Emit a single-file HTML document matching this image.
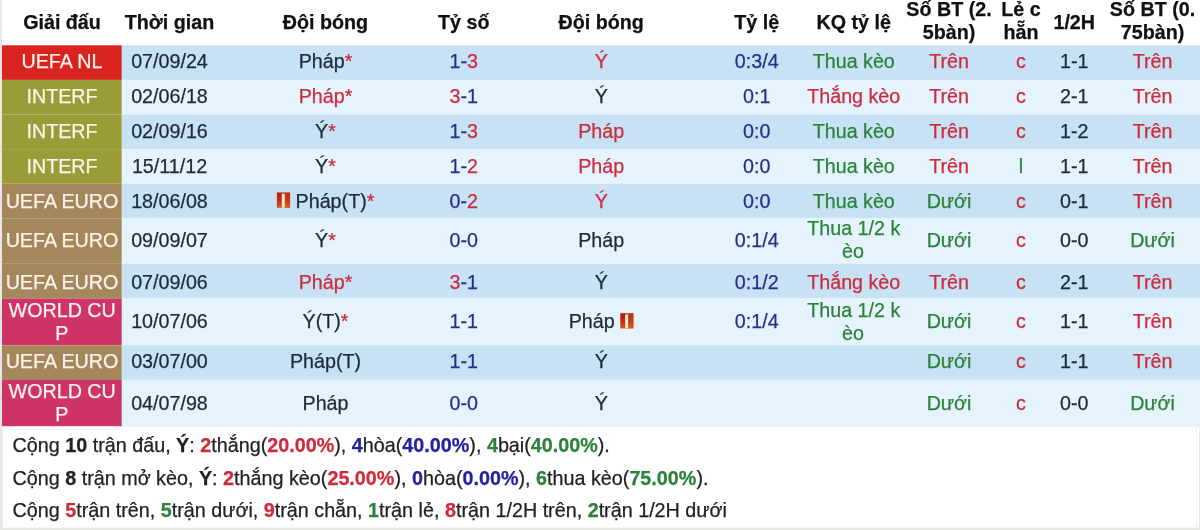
<!DOCTYPE html>
<html lang="vi">
<head>
<meta charset="utf-8">
<title>Thống kê đối đầu Pháp - Ý</title>
<style>
html,body{margin:0;padding:0;background:#fff;}
body{width:1200px;height:530px;overflow:hidden;}
svg{display:block;font-family:"Liberation Sans",Arial,sans-serif;font-size:19.7px;}
.h{font-weight:bold;fill:#111;stroke:#111;}
text{stroke-width:0.25px;}
.k{fill:#1e2a38;stroke:#1e2a38;}
.r{fill:#cf2b3c;stroke:#cf2b3c;}
.g{fill:#2c8238;stroke:#2c8238;}
.bl{fill:#26308c;stroke:#26308c;}
.bs{fill:#23239d;stroke:#23239d;}
.s{fill:#222;stroke:#222;font-size:19.76px;}
.m{text-anchor:middle;}
.lg{fill:#fff3ea;stroke:#fff3ea;}
</style>
</head>
<body>
<svg width="1200" height="530" viewBox="0 0 1200 530">
<defs><linearGradient id="cg" x1="0" y1="0" x2="0" y2="1"><stop offset="0" stop-color="#b41710"/><stop offset="0.5" stop-color="#c42a14"/><stop offset="1" stop-color="#d9581e"/></linearGradient><linearGradient id="cb" x1="0" y1="0" x2="0" y2="1"><stop offset="0" stop-color="#ffe9c8"/><stop offset="0.5" stop-color="#fff6e6"/><stop offset="1" stop-color="#ffe2a6"/></linearGradient></defs>
<rect x="0" y="0" width="1200" height="530" fill="#fff"/>
<rect x="121.7" y="45.3" width="1078.3" height="34.60" fill="#c6e2f4"/>
<rect x="2.0" y="45.3" width="119.70" height="34.60" fill="#d8231f"/>
<rect x="121.7" y="79.9" width="1078.3" height="34.60" fill="#e5f4fc"/>
<rect x="2.0" y="79.9" width="119.70" height="34.60" fill="#9a9c38"/>
<rect x="121.7" y="114.5" width="1078.3" height="34.60" fill="#c6e2f4"/>
<rect x="2.0" y="114.5" width="119.70" height="34.60" fill="#9a9c38"/>
<rect x="121.7" y="149.1" width="1078.3" height="34.60" fill="#e5f4fc"/>
<rect x="2.0" y="149.1" width="119.70" height="34.60" fill="#9a9c38"/>
<rect x="121.7" y="183.7" width="1078.3" height="34.60" fill="#c6e2f4"/>
<rect x="2.0" y="183.7" width="119.70" height="34.60" fill="#a4885b"/>
<rect x="121.7" y="218.3" width="1078.3" height="45.50" fill="#e5f4fc"/>
<rect x="2.0" y="218.3" width="119.70" height="45.50" fill="#a4885b"/>
<rect x="121.7" y="263.8" width="1078.3" height="34.70" fill="#c6e2f4"/>
<rect x="2.0" y="263.8" width="119.70" height="34.70" fill="#a4885b"/>
<rect x="121.7" y="298.5" width="1078.3" height="46.80" fill="#e5f4fc"/>
<rect x="2.0" y="298.5" width="119.70" height="46.80" fill="#cf3468"/>
<rect x="121.7" y="345.3" width="1078.3" height="34.60" fill="#c6e2f4"/>
<rect x="2.0" y="345.3" width="119.70" height="34.60" fill="#a4885b"/>
<rect x="121.7" y="379.9" width="1078.3" height="46.90" fill="#e5f4fc"/>
<rect x="2.0" y="379.9" width="119.70" height="46.30" fill="#cf3468"/>
<rect x="0" y="0" width="2" height="530" fill="#e7e7e4"/>
<rect x="2" y="427" width="1.1" height="101" fill="#ecece9"/>
<rect x="1196" y="427.2" width="1" height="100.5" fill="#f0f0ed"/>
<rect x="1199" y="427.2" width="1" height="103" fill="#eaeae7"/>
<rect x="0" y="527.7" width="1200" height="2.3" fill="#e8e8e5"/>
<text class="h m" x="62" y="28.7">Giải đấu</text>
<text class="h m" x="169.5" y="28.7">Thời gian</text>
<text class="h m" x="325.5" y="28.7">Đội bóng</text>
<text class="h m" x="463.75" y="28.7">Tỷ số</text>
<text class="h m" x="601.2" y="28.7">Đội bóng</text>
<text class="h m" x="756.75" y="28.7">Tỷ lệ</text>
<text class="h m" x="853.75" y="28.7">KQ tỷ lệ</text>
<text class="h m" x="949" y="15.6">Số BT (2.</text>
<text class="h m" x="949" y="38.9">5bàn)</text>
<text class="h m" x="1021" y="15.6">Lẻ c</text>
<text class="h m" x="1021" y="38.9">hẵn</text>
<text class="h m" x="1074.25" y="28.7">1/2H</text>
<text class="h m" x="1152.5" y="15.6">Số BT (0.</text>
<text class="h m" x="1152.5" y="38.9">75bàn)</text>
<text class="m lg" x="62" y="68.4">UEFA NL</text>
<text class="m k" x="169.5" y="68.4">07/09/24</text>
<text class="m k" x="325.50" y="68.4">Pháp<tspan class="r">*</tspan></text>
<text class="m k" x="463.75" y="68.4"><tspan class="bl">1-</tspan><tspan class="r">3</tspan></text>
<text class="m k" x="601.20" y="68.4"><tspan class="r">Ý</tspan></text>
<text class="m bl" x="756.75" y="68.4">0:3/4</text>
<text class="m g" x="853.75" y="68.4">Thua kèo</text>
<text class="m r" x="949" y="68.4">Trên</text>
<text class="m r" x="1021" y="68.4">c</text>
<text class="m k" x="1074.25" y="68.4">1-1</text>
<text class="m r" x="1152.5" y="68.4">Trên</text>
<text class="m lg" x="62" y="103.05">INTERF</text>
<text class="m k" x="169.5" y="103.05">02/06/18</text>
<text class="m k" x="325.50" y="103.05"><tspan class="r">Pháp*</tspan></text>
<text class="m k" x="463.75" y="103.05"><tspan class="r">3</tspan><tspan class="bl">-1</tspan></text>
<text class="m k" x="601.20" y="103.05">Ý</text>
<text class="m bl" x="756.75" y="103.05">0:1</text>
<text class="m r" x="853.75" y="103.05">Thắng kèo</text>
<text class="m r" x="949" y="103.05">Trên</text>
<text class="m r" x="1021" y="103.05">c</text>
<text class="m k" x="1074.25" y="103.05">2-1</text>
<text class="m r" x="1152.5" y="103.05">Trên</text>
<text class="m lg" x="62" y="137.7">INTERF</text>
<text class="m k" x="169.5" y="137.7">02/09/16</text>
<text class="m k" x="325.50" y="137.7">Ý<tspan class="r">*</tspan></text>
<text class="m k" x="463.75" y="137.7"><tspan class="bl">1-</tspan><tspan class="r">3</tspan></text>
<text class="m k" x="601.20" y="137.7"><tspan class="r">Pháp</tspan></text>
<text class="m bl" x="756.75" y="137.7">0:0</text>
<text class="m g" x="853.75" y="137.7">Thua kèo</text>
<text class="m r" x="949" y="137.7">Trên</text>
<text class="m r" x="1021" y="137.7">c</text>
<text class="m k" x="1074.25" y="137.7">1-2</text>
<text class="m r" x="1152.5" y="137.7">Trên</text>
<text class="m lg" x="62" y="172.9">INTERF</text>
<text class="m k" x="169.5" y="172.9">15/11/12</text>
<text class="m k" x="325.50" y="172.9">Ý<tspan class="r">*</tspan></text>
<text class="m k" x="463.75" y="172.9"><tspan class="bl">1-</tspan><tspan class="r">2</tspan></text>
<text class="m k" x="601.20" y="172.9"><tspan class="r">Pháp</tspan></text>
<text class="m bl" x="756.75" y="172.9">0:0</text>
<text class="m g" x="853.75" y="172.9">Thua kèo</text>
<text class="m r" x="949" y="172.9">Trên</text>
<text class="m g" x="1021" y="172.9">l</text>
<text class="m k" x="1074.25" y="172.9">1-1</text>
<text class="m r" x="1152.5" y="172.9">Trên</text>
<text class="m lg" x="62" y="207.6">UEFA EURO</text>
<text class="m k" x="169.5" y="207.6">18/06/08</text>
<rect x="276.90" y="192.50" width="13.2" height="15.3" fill="url(#cg)"/><rect x="283.50" y="192.50" width="6.6" height="15.3" fill="#d8661a" opacity="0.28"/><rect x="281.80" y="193.70" width="2.9" height="14.1" fill="url(#cb)"/>
<text class="m k" x="335.00" y="207.6">Pháp(T)<tspan class="r">*</tspan></text>
<text class="m k" x="463.75" y="207.6"><tspan class="bl">0-</tspan><tspan class="r">2</tspan></text>
<text class="m k" x="601.20" y="207.6"><tspan class="r">Ý</tspan></text>
<text class="m bl" x="756.75" y="207.6">0:0</text>
<text class="m g" x="853.75" y="207.6">Thua kèo</text>
<text class="m g" x="949" y="207.6">Dưới</text>
<text class="m r" x="1021" y="207.6">c</text>
<text class="m k" x="1074.25" y="207.6">0-1</text>
<text class="m r" x="1152.5" y="207.6">Trên</text>
<text class="m lg" x="62" y="246.9">UEFA EURO</text>
<text class="m k" x="169.5" y="246.9">09/09/07</text>
<text class="m k" x="325.50" y="246.9">Ý<tspan class="r">*</tspan></text>
<text class="m k" x="463.75" y="246.9"><tspan class="bl">0-0</tspan></text>
<text class="m k" x="601.20" y="246.9">Pháp</text>
<text class="m bl" x="756.75" y="246.9">0:1/4</text>
<text class="m g" x="853.75" y="235.3">Thua 1/2 k</text>
<text class="m g" x="853.05" y="258.3">èo</text>
<text class="m g" x="949" y="246.9">Dưới</text>
<text class="m r" x="1021" y="246.9">c</text>
<text class="m k" x="1074.25" y="246.9">0-0</text>
<text class="m g" x="1152.5" y="246.9">Dưới</text>
<text class="m lg" x="62" y="288.5">UEFA EURO</text>
<text class="m k" x="169.5" y="288.5">07/09/06</text>
<text class="m k" x="325.50" y="288.5"><tspan class="r">Pháp*</tspan></text>
<text class="m k" x="463.75" y="288.5"><tspan class="r">3</tspan><tspan class="bl">-1</tspan></text>
<text class="m k" x="601.20" y="288.5">Ý</text>
<text class="m bl" x="756.75" y="288.5">0:1/2</text>
<text class="m r" x="853.75" y="288.5">Thắng kèo</text>
<text class="m r" x="949" y="288.5">Trên</text>
<text class="m r" x="1021" y="288.5">c</text>
<text class="m k" x="1074.25" y="288.5">2-1</text>
<text class="m r" x="1152.5" y="288.5">Trên</text>
<text class="m lg" x="62.2" y="316.7">WORLD CU</text>
<text class="m lg" x="61.7" y="340.1">P</text>
<text class="m k" x="169.5" y="328.3">10/07/06</text>
<text class="m k" x="325.50" y="328.3">Ý(T)<tspan class="r">*</tspan></text>
<text class="m k" x="463.75" y="328.3"><tspan class="bl">1-1</tspan></text>
<rect x="620.30" y="313.20" width="13.2" height="15.3" fill="url(#cg)"/><rect x="626.90" y="313.20" width="6.6" height="15.3" fill="#d8661a" opacity="0.28"/><rect x="625.20" y="314.40" width="2.9" height="14.1" fill="url(#cb)"/>
<text class="m k" x="591.70" y="328.3">Pháp</text>
<text class="m bl" x="756.75" y="328.3">0:1/4</text>
<text class="m g" x="853.75" y="316.7">Thua 1/2 k</text>
<text class="m g" x="853.05" y="339.90000000000003">èo</text>
<text class="m g" x="949" y="328.3">Dưới</text>
<text class="m r" x="1021" y="328.3">c</text>
<text class="m k" x="1074.25" y="328.3">1-1</text>
<text class="m r" x="1152.5" y="328.3">Trên</text>
<text class="m lg" x="62" y="368.4">UEFA EURO</text>
<text class="m k" x="169.5" y="368.4">03/07/00</text>
<text class="m k" x="325.50" y="368.4">Pháp(T)</text>
<text class="m k" x="463.75" y="368.4"><tspan class="bl">1-1</tspan></text>
<text class="m k" x="601.20" y="368.4">Ý</text>
<text class="m g" x="949" y="368.4">Dưới</text>
<text class="m r" x="1021" y="368.4">c</text>
<text class="m k" x="1074.25" y="368.4">1-1</text>
<text class="m r" x="1152.5" y="368.4">Trên</text>
<text class="m lg" x="62.2" y="398.0">WORLD CU</text>
<text class="m lg" x="61.7" y="421.4">P</text>
<text class="m k" x="169.5" y="409.6">04/07/98</text>
<text class="m k" x="325.50" y="409.6">Pháp</text>
<text class="m k" x="463.75" y="409.6"><tspan class="bl">0-0</tspan></text>
<text class="m k" x="601.20" y="409.6">Ý</text>
<text class="m g" x="949" y="409.6">Dưới</text>
<text class="m r" x="1021" y="409.6">c</text>
<text class="m k" x="1074.25" y="409.6">0-0</text>
<text class="m g" x="1152.5" y="409.6">Dưới</text>
<text class="s" x="12.5" y="452.2" xml:space="preserve">Cộng <tspan font-weight="bold">10</tspan> trận đấu, <tspan font-weight="bold">Ý</tspan>: <tspan font-weight="bold" class="r">2</tspan>thắng(<tspan font-weight="bold" class="r">20.00%</tspan>), <tspan font-weight="bold" class="bs">4</tspan>hòa(<tspan font-weight="bold" class="bs">40.00%</tspan>), <tspan font-weight="bold" class="g">4</tspan>bại(<tspan font-weight="bold" class="g">40.00%</tspan>).</text>
<text class="s" x="12.5" y="484.6" xml:space="preserve">Cộng <tspan font-weight="bold">8</tspan> trận mở kèo, <tspan font-weight="bold">Ý</tspan>: <tspan font-weight="bold" class="r">2</tspan>thắng kèo(<tspan font-weight="bold" class="r">25.00%</tspan>), <tspan font-weight="bold" class="bs">0</tspan>hòa(<tspan font-weight="bold" class="bs">0.00%</tspan>), <tspan font-weight="bold" class="g">6</tspan>thua kèo(<tspan font-weight="bold" class="g">75.00%</tspan>).</text>
<text class="s" x="12.5" y="517.2" xml:space="preserve">Cộng <tspan font-weight="bold" class="r">5</tspan>trận trên, <tspan font-weight="bold" class="g">5</tspan>trận dưới, <tspan font-weight="bold" class="r">9</tspan>trận chẵn, <tspan font-weight="bold" class="g">1</tspan>trận lẻ, <tspan font-weight="bold" class="r">8</tspan>trận 1/2H trên, <tspan font-weight="bold" class="g">2</tspan>trận 1/2H dưới</text>
</svg>
</body>
</html>
